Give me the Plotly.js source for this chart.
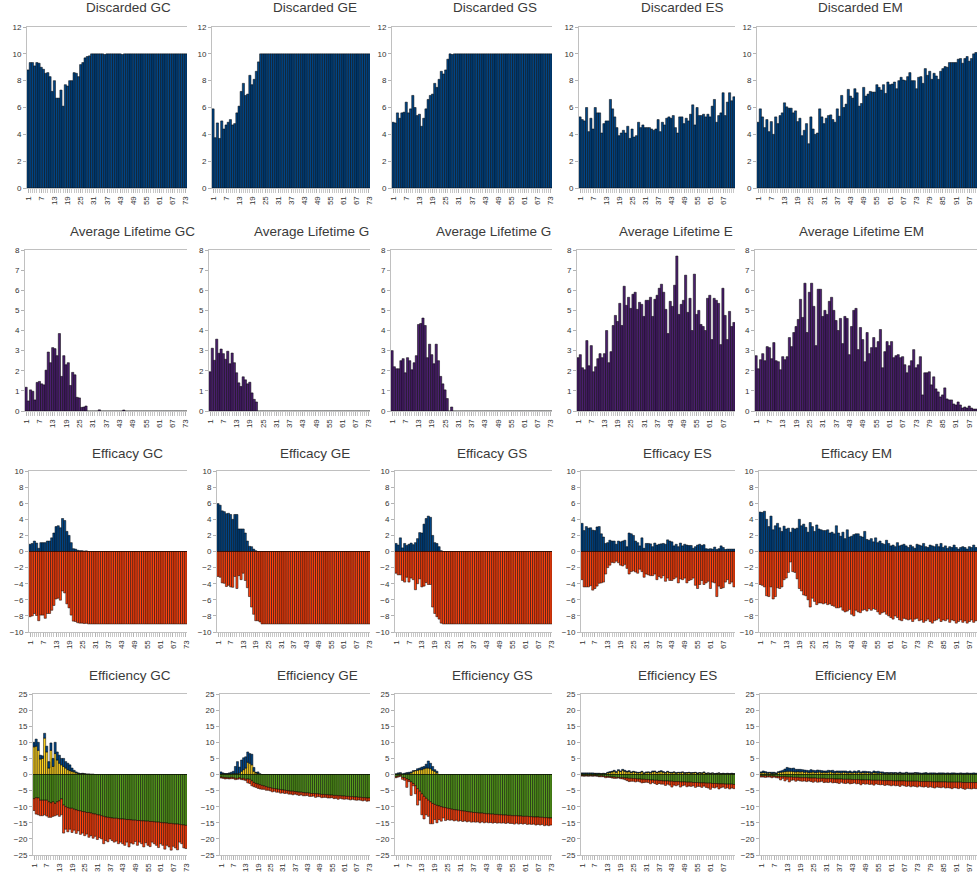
<!DOCTYPE html>
<html><head><meta charset="utf-8">
<script src="https://cdn.plot.ly/plotly-3.0.1.min.js"></script>
<style>html,body{margin:0;padding:0;background:#fff}#chart{width:977px;height:877px}</style>
</head><body><div id="chart"></div>
<script>
// ---------- categories / tick labels ----------
const panelNames = ['GC','GE','GS','ES','EM'];
const tickEvery = 6;

// ---------- Discarded ----------
const discGC = [8.8,9.35,9.35,9.1,9.35,9.3,9.0,8.85,8.55,8.6,
 8.3,7.2,8.0,6.7,6.7,7.3,6.1,7.7,7.6,8.0,
 8.0,8.6,8.55,8.3,9.2,9.35,9.7,9.8,9.85,10,
 10,10,10,10,10,9.95,10,10,10,10,
 10,10,10,9.95,10,10,10,10,10,10,
 10,10,10,10,10,10,10,10,10,10,
 10,10,10,10,10,10,10,10,10,10,
 10,10,10];
const discGE = [5.9,3.75,4.85,3.7,5.0,4.4,4.7,4.9,5.1,4.7,
 4.8,5.6,6.1,7.2,7.8,6.9,7.0,8.4,7.7,8.1,
 8.7,9.4,10,10,10,10,10,10,10,10,
 10,10,10,10,10,10,10,10,10,10,
 10,10,10,10,10,10,10,10,10,10,
 10,10,10,10,10,10,10,10,10,10,
 10,10,10,10,10,10,10,10,10,10,
 10,10,10];
const discGS = [4.9,4.85,5.6,5.2,5.6,5.65,6.4,5.6,5.9,6.9,
 6.0,5.4,5.5,4.6,5.2,5.9,6.6,6.9,7.0,7.8,
 7.5,8.1,8.7,8.5,8.8,9.6,10,9.95,10,10,
 10,10,10,10,10,10,10,10,10,10,
 10,10,10,10,10,10,10,10,10,10,
 10,10,10,10,10,10,10,10,10,10,
 10,10,10,10,10,10,10,10,10,10,
 10,10,10];
const discES = [5.3,5.1,5.0,6.0,4.2,5.2,4.4,6.0,5.6,5.6,
 4.1,4.8,5.0,5.0,6.6,5.9,5.3,4.5,3.9,4.1,
 4.3,4.1,4.6,3.7,4.4,3.8,3.9,4.9,4.5,4.7,
 4.5,4.5,4.5,4.4,4.3,4.4,5.1,4.2,4.9,4.7,
 5.2,5.3,5.2,5.4,4.5,4.1,5.3,5.3,4.8,5.2,
 5.0,5.5,6.2,4.7,6.0,5.4,5.4,5.5,5.3,5.5,
 5.3,6.1,6.6,4.9,5.4,5.6,7.1,5.4,6.4,7.1,
 6.5,6.8];
const discEM = [4.9,5.9,5.3,4.5,5.1,4.2,4.95,4.0,5.3,4.8,
 5.4,5.6,6.35,6.05,5.95,5.95,5.6,5.75,4.95,5.2,
 3.9,4.3,4.8,3.3,5.3,4.4,4.0,4.1,5.9,5.3,
 4.8,5.2,5.4,5.45,5.1,4.9,5.9,5.35,6.9,6.0,
 6.25,7.35,6.85,6.7,7.4,7.1,6.1,6.3,7.5,6.85,
 7.0,7.2,7.15,7.15,7.7,7.5,7.3,7.7,7.05,7.9,
 7.7,7.75,7.9,7.4,8.0,8.25,8.05,8.0,8.3,8.6,
 8.0,8.0,7.4,8.25,8.3,7.8,8.9,8.4,8.7,8.1,
 8.55,8.35,8.1,8.7,8.9,9.05,9.0,9.35,9.35,9.35,
 9.35,9.6,9.65,9.3,9.65,9.8,9.45,9.65,10.0,10.1];

// ---------- Average Lifetime ----------
const lifeGC = [1.18,0.5,1.05,0.98,0.55,1.42,1.47,1.35,1.3,2.03,
 2.93,2.4,3.15,3.1,2.75,3.85,1.72,2.75,2.3,2.4,
 1.27,1.92,1.8,0.68,0.65,0.18,0.2,0.25,0,0,
 0,0,0,0.06,0,0,0,0,0,0,
 0,0,0,0,0.05,0,0,0,0,0,
 0,0,0,0,0,0,0,0,0,0,
 0,0,0,0,0,0,0,0,0,0,
 0,0,0];
const lifeGE = [1.95,3.12,2.52,3.57,2.87,3.08,2.85,2.57,2.97,2.35,
 2.88,2.4,1.9,1.4,1.22,1.7,1.55,1.35,1.43,0.9,
 0.58,0.45,0,0,0,0,0,0,0,0,
 0,0,0,0,0,0,0,0,0,0,
 0,0,0,0,0,0,0,0,0,0,
 0,0,0,0,0,0,0,0,0,0,
 0,0,0,0,0,0,0,0,0,0,
 0,0,0];
const lifeGS = [3.0,2.2,2.1,2.1,2.5,2.6,1.9,2.65,2.5,2.05,
 2.4,2.75,4.3,4.35,4.62,4.25,2.65,3.32,2.8,2.35,
 3.32,2.5,1.72,1.35,1.05,0.62,0,0.2,0,0,
 0,0,0,0,0,0,0,0,0,0,
 0,0,0,0,0,0,0,0,0,0,
 0,0,0,0,0,0,0,0,0,0,
 0,0,0,0,0,0,0,0,0,0,
 0,0,0];
const lifeES = [2.65,2.8,2.15,2.05,3.5,2.25,3.25,1.95,2.2,2.6,
 2.85,2.65,2.85,4.0,2.4,2.95,4.25,4.75,4.45,5.35,
 4.25,6.2,5.25,5.65,5.1,5.8,5.9,5.05,5.4,5.3,
 4.7,5.5,5.5,5.65,4.7,5.55,5.75,6.1,6.3,5.9,
 5.05,3.85,5.45,5.2,6.25,7.7,4.8,5.3,5.5,6.75,
 4.9,5.6,4.0,6.8,4.8,5.0,4.3,4.2,4.0,5.6,
 5.75,3.55,5.6,5.5,5.35,3.3,6.1,4.75,3.55,4.95,
 4.2,4.4];
const lifeEM = [2.75,2.1,2.55,2.85,2.5,3.2,3.15,2.6,3.4,2.5,
 2.45,2.05,2.7,2.55,2.7,3.65,3.2,3.9,4.2,4.55,
 5.55,4.65,6.35,3.9,5.9,6.35,5.2,3.25,6.05,6.05,
 4.7,5.0,4.8,5.45,5.65,5.0,4.5,4.0,4.6,3.35,
 4.7,4.6,2.8,4.2,5.0,5.1,3.05,4.15,3.55,2.45,
 3.9,2.85,3.15,3.65,3.15,3.45,4.05,2.15,2.95,3.45,
 3.25,3.45,2.65,2.75,2.8,2.65,2.7,2.3,1.9,2.25,
 2.5,3.05,2.15,2.3,2.7,0.8,1.9,1.9,1.95,1.3,
 1.7,1.1,0.95,0.7,0.8,1.15,0.6,0.55,0.55,0.35,
 0.3,0.45,0.3,0.15,0.2,0.15,0.25,0.15,0.1,0.1];

// ---------- Efficacy (positive / negative) ----------
const effPosGC = [0.9,1.0,1.3,1.05,0.4,1.1,1.1,1.1,1.3,1.3,
 1.7,2.3,3.1,3.2,2.95,4.1,3.85,2.5,2.0,1.1,
 0.35,0.3,0.15,0.1,0.1,0.05,0.08,0,0,0,
 0,0,0,0,0,0,0,0,0,0,
 0,0,0,0,0,0,0,0,0,0,
 0,0,0,0,0,0,0,0,0,0,
 0,0,0,0,0,0,0,0,0,0,
 0,0,0];
const effNegGC = [-8.1,-8.0,-7.7,-7.95,-8.6,-7.9,-7.9,-8.3,-7.7,-7.7,
 -7.3,-6.7,-5.9,-5.8,-6.05,-4.9,-5.15,-6.5,-7.0,-7.9,
 -8.65,-8.7,-8.85,-8.9,-8.9,-8.95,-8.92,-9,-9,-9,
 -9,-9,-9,-9,-9,-9,-9,-9,-9,-9,
 -9,-9,-9,-9,-9,-9,-9,-9,-9,-9,
 -9,-9,-9,-9,-9,-9,-9,-9,-9,-9,
 -9,-9,-9,-9,-9,-9,-9,-9,-9,-9,
 -9,-9,-9];
const effPosGE = [5.95,5.75,5.05,4.95,4.7,4.75,4.6,4.0,4.6,4.6,
 2.8,2.8,2.8,2.3,1.3,0.65,0.6,0.3,0.1,0,
 0,0,0,0,0,0,0,0,0,0,
 0,0,0,0,0,0,0,0,0,0,
 0,0,0,0,0,0,0,0,0,0,
 0,0,0,0,0,0,0,0,0,0,
 0,0,0,0,0,0,0,0,0,0,
 0,0,0];
const effNegGE = [-3.1,-3.2,-3.9,-3.95,-4.35,-4.2,-4.4,-4.45,-3.1,-4.6,
 -3.0,-3.5,-2.7,-3.6,-4.5,-5.6,-6.9,-7.8,-8.6,-8.6,
 -8.75,-9,-9,-9,-9,-9,-9,-9,-9,-9,
 -9,-9,-9,-9,-9,-9,-9,-9,-9,-9,
 -9,-9,-9,-9,-9,-9,-9,-9,-9,-9,
 -9,-9,-9,-9,-9,-9,-9,-9,-9,-9,
 -9,-9,-9,-9,-9,-9,-9,-9,-9,-9,
 -9,-9,-9];
const effPosGS = [1.0,0.8,1.7,0.45,1.0,0.75,0.9,1.05,0.85,1.1,
 1.6,2.35,2.3,3.4,4.1,4.4,4.25,2.0,1.1,1.0,
 0.6,0.1,0,0,0,0,0,0,0,0,
 0,0,0,0,0,0,0,0,0,0,
 0,0,0,0,0,0,0,0,0,0,
 0,0,0,0,0,0,0,0,0,0,
 0,0,0,0,0,0,0,0,0,0,
 0,0,0];
const effNegGS = [-2.7,-2.9,-2.9,-3.6,-3.8,-3.2,-3.8,-3.3,-3.5,-4.75,
 -4.0,-3.4,-4.4,-4.3,-3.85,-4.1,-4.1,-6.9,-7.7,-8.1,
 -8.4,-8.9,-9,-9,-9,-9,-9,-9,-9,-9,
 -9,-9,-9,-9,-9,-9,-9,-9,-9,-9,
 -9,-9,-9,-9,-9,-9,-9,-9,-9,-9,
 -9,-9,-9,-9,-9,-9,-9,-9,-9,-9,
 -9,-9,-9,-9,-9,-9,-9,-9,-9,-9,
 -9,-9,-9];
const effPosES = [3.5,2.6,3.1,2.9,2.95,2.65,2.6,3.05,3.1,2.2,
 1.8,1.0,1.1,1.4,1.3,1.3,0.9,1.3,1.2,1.3,
 1.4,0.6,2.3,2.2,2.0,1.3,1.1,0.7,1.7,0.4,
 1.0,1.0,0.95,0.6,1.05,0.8,0.9,0.95,1.0,0.9,
 1.45,1.3,1.2,0.7,0.9,0.6,1.05,0.7,0.9,0.8,
 0.75,0.75,0.4,0.6,0.8,0.9,0.75,0.85,0.35,0.3,
 0.35,0.3,0.55,0.25,0.35,0.7,0.5,0.25,0.3,0.3,
 0.3,0.3];
const effNegES = [-3.5,-4.4,-4.4,-4.4,-4.25,-4.8,-4.6,-4.3,-3.95,-3.9,
 -3.8,-2.8,-2.0,-1.7,-1.35,-1.4,-1.2,-1.4,-1.7,-1.8,
 -1.6,-2.1,-2.8,-2.5,-2.4,-2.55,-2.7,-2.2,-2.5,-3.2,
 -2.8,-2.9,-3.0,-3.0,-2.8,-3.5,-3.1,-3.3,-3.0,-3.7,
 -3.3,-3.6,-3.6,-3.4,-3.2,-3.9,-3.4,-3.5,-3.3,-3.9,
 -3.6,-3.5,-3.3,-4.2,-4.6,-4.1,-3.6,-4.1,-3.9,-3.7,
 -4.6,-3.8,-3.9,-5.6,-4.3,-4.6,-4.5,-3.8,-3.5,-4.0,
 -3.8,-4.4];
const effPosEM = [4.9,4.85,5.0,4.0,3.1,4.4,2.7,3.2,3.5,2.95,
 2.5,3.15,2.8,2.9,2.4,2.9,2.8,2.9,4.0,3.2,
 3.4,3.0,2.4,3.6,3.1,2.5,3.3,2.8,2.7,2.6,
 2.6,2.7,2.3,2.4,2.2,3.2,2.3,1.9,2.4,1.6,
 2.7,1.8,1.9,2.1,2.2,2.2,1.9,1.8,2.5,1.5,
 1.4,1.6,1.2,1.7,1.1,1.3,1.0,0.9,1.4,1.0,
 0.7,0.8,0.6,1.1,0.7,0.8,0.9,0.7,0.5,0.8,
 0.6,0.4,0.9,0.8,0.7,1.0,0.6,0.5,0.8,0.7,
 0.6,0.9,0.6,1.0,0.5,0.7,0.4,0.6,0.5,0.8,
 0.5,0.3,0.5,0.6,0.5,0.3,0.6,0.5,0.8,0.5];
const effNegEM = [-4.1,-4.2,-4.4,-5.5,-5.6,-4.4,-5.9,-5.6,-4.5,-4.6,
 -4.4,-3.5,-3.3,-2.6,-1.3,-2.5,-2.6,-3.4,-4.6,-4.9,
 -5.4,-5.5,-6.0,-6.9,-5.8,-6.2,-6.6,-6.4,-6.4,-6.5,
 -6.4,-6.6,-6.5,-6.7,-6.8,-7.0,-7.0,-6.9,-7.3,-7.5,
 -7.4,-7.2,-7.8,-8.0,-7.3,-7.5,-7.6,-7.3,-7.2,-7.4,
 -7.1,-7.3,-7.1,-7.2,-7.5,-7.8,-7.6,-7.5,-7.8,-8.0,
 -8.2,-8.4,-8.0,-8.2,-8.5,-8.6,-8.3,-8.4,-8.5,-8.4,
 -8.7,-8.4,-8.3,-8.6,-8.5,-8.8,-8.6,-8.4,-8.7,-8.9,
 -8.6,-8.5,-8.3,-8.7,-8.5,-8.6,-8.4,-8.8,-8.5,-8.6,
 -8.9,-8.7,-8.5,-8.8,-8.6,-8.9,-8.7,-8.5,-8.8,-8.6];

// ---------- Efficiency (yellow, blue positive; green, red negative) ----------
const effyYelGC = [8.6,8.8,7.5,4.8,5.0,11.3,7.0,2.0,7.5,2.5,
 6.5,4.5,3.5,3.0,2.5,2.0,1.5,1.2,1.0,0.8,
 0.5,0.3,0.2,0.3,0.2,0.1,0.1,0.05,0.05,0,
 0,0,0,0,0,0,0,0,0,0,
 0,0,0,0,0,0,0,0,0,0,
 0,0,0,0,0,0,0,0,0,0,
 0,0,0,0,0,0,0,0,0,0,
 0,0,0];
const effyBluGC = [1.4,2.2,2.5,1.2,0.8,1.5,1.8,2.0,2.3,2.5,
 3.5,2.5,2.5,2.0,2.5,2.0,2.0,1.8,1.0,0.5,
 0.3,0.2,0.1,0.1,0.05,0,0,0,0,0,
 0,0,0,0,0,0,0,0,0,0,
 0,0,0,0,0,0,0,0,0,0,
 0,0,0,0,0,0,0,0,0,0,
 0,0,0,0,0,0,0,0,0,0,
 0,0,0];
const effyGrnGC = [-7.5,-7.2,-7.3,-8.0,-8.0,-8.0,-8.0,-8.5,-8.8,-8.5,
 -9.0,-8.5,-8.2,-7.6,-9.5,-10.0,-10.3,-10.5,-10.5,-10.8,
 -11.0,-11.2,-11.3,-11.5,-11.6,-11.8,-11.8,-12.0,-12.2,-12.3,
 -12.5,-12.6,-12.8,-13.0,-13.2,-13.3,-13.4,-13.5,-13.6,-13.6,
 -13.7,-13.8,-13.8,-13.9,-14.0,-14.0,-14.1,-14.2,-14.2,-14.3,
 -14.3,-14.4,-14.4,-14.5,-14.5,-14.6,-14.6,-14.7,-14.8,-14.8,
 -14.9,-15.0,-15.0,-15.1,-15.2,-15.2,-15.3,-15.4,-15.4,-15.5,
 -15.6,-15.7,-15.8];
const effyRedGC = [-3.7,-5.1,-5.2,-4.8,-4.8,-4.5,-4.9,-4.8,-4.5,-4.5,
 -3.8,-4.0,-4.8,-4.9,-8.7,-7.0,-7.5,-6.5,-7.5,-6.5,
 -7.3,-6.3,-7.3,-6.7,-7.4,-6.7,-7.7,-7.0,-7.6,-6.9,
 -7.7,-7.0,-7.2,-8.5,-7.3,-7.6,-6.6,-7.0,-7.4,-7.1,
 -7.8,-7.2,-7.7,-8.1,-7.0,-8.5,-7.2,-7.4,-6.6,-7.7,
 -6.7,-7.1,-8.1,-6.7,-7.5,-7.8,-6.4,-6.8,-7.2,-7.9,
 -6.6,-7.0,-8.2,-6.9,-7.3,-8.3,-7.0,-7.4,-8.0,-5.5,
 -5.9,-7.1,-7.2];
const effyYelGE = [0.2,0.3,0.2,0.2,0.3,0.2,0.3,0.3,0.3,0.4,
 1.0,1.5,2.0,3.8,3.5,3.0,1.0,0.5,0.3,0.1,
 0,0,0,0,0,0,0,0,0,0,
 0,0,0,0,0,0,0,0,0,0,
 0,0,0,0,0,0,0,0,0,0,
 0,0,0,0,0,0,0,0,0,0,
 0,0,0,0,0,0,0,0,0,0,
 0,0,0];
const effyBluGE = [0.6,0.2,0.1,0.1,0.2,0.5,0.7,2.2,3.7,1.9,
 3.5,3.7,3.5,3.2,3.0,3.3,1.2,0.2,0.5,0.1,
 0,0,0,0,0,0,0,0,0,0,
 0,0,0,0,0,0,0,0,0,0,
 0,0,0,0,0,0,0,0,0,0,
 0,0,0,0,0,0,0,0,0,0,
 0,0,0,0,0,0,0,0,0,0,
 0,0,0];
const effyGrnGE = [-0.8,-0.9,-1.0,-1.0,-1.1,-0.9,-1.0,-1.2,-1.2,-1.0,
 -1.3,-1.2,-1.5,-1.4,-1.5,-2.0,-2.5,-2.8,-3.0,-3.2,
 -3.4,-3.6,-3.8,-4.0,-4.1,-4.3,-4.4,-4.5,-4.6,-4.7,
 -4.8,-4.9,-5.0,-5.1,-5.2,-5.2,-5.3,-5.4,-5.5,-5.5,
 -5.6,-5.7,-5.7,-5.8,-5.9,-5.9,-6.0,-6.0,-6.1,-6.2,
 -6.2,-6.3,-6.3,-6.4,-6.4,-6.5,-6.5,-6.6,-6.6,-6.7,
 -6.7,-6.8,-6.8,-6.9,-6.9,-7.0,-7.0,-7.1,-7.1,-7.2,
 -7.2,-7.3,-7.3];
const effyRedGE = [-0.3,-0.3,-0.4,-0.3,-0.3,-0.4,-0.3,-0.4,-0.3,-0.4,
 -0.3,-0.5,-0.4,-1.2,-1.3,-1.5,-1.3,-1.2,-1.3,-1.3,
 -1.2,-1.0,-1.1,-0.9,-1.0,-1.1,-0.8,-1.0,-0.9,-1.1,
 -0.9,-1.0,-0.8,-1.0,-0.9,-1.1,-0.8,-0.9,-1.0,-0.8,
 -1.0,-0.9,-0.8,-1.0,-0.9,-0.8,-1.1,-0.9,-0.8,-1.0,
 -0.9,-0.8,-1.0,-0.9,-0.8,-1.0,-0.9,-1.1,-0.8,-0.9,
 -1.0,-0.8,-0.9,-1.0,-0.8,-0.9,-1.0,-0.8,-0.9,-1.0,
 -0.8,-1.0,-0.9];
const effyYelGS = [0.1,0.2,0.3,0.1,0.2,0.3,0.3,0.5,1.0,1.2,
 1.3,1.5,1.5,1.8,2.0,2.0,1.8,1.3,1.0,0.5,
 0,0,0,0,0,0,0,0,0,0,
 0,0,0,0,0,0,0,0,0,0,
 0,0,0,0,0,0,0,0,0,0,
 0,0,0,0,0,0,0,0,0,0,
 0,0,0,0,0,0,0,0,0,0,
 0,0,0];
const effyBluGS = [0.1,0.3,0.3,0.1,0.2,0.3,0.4,0.3,0.2,0.0,
 0.5,0.5,0.8,0.7,1.2,2.2,1.7,1.2,0.5,0.5,
 0,0,0,0,0,0,0,0,0,0,
 0,0,0,0,0,0,0,0,0,0,
 0,0,0,0,0,0,0,0,0,0,
 0,0,0,0,0,0,0,0,0,0,
 0,0,0,0,0,0,0,0,0,0,
 0,0,0];
const effyGrnGS = [-0.7,-0.5,-0.3,-0.9,-1.0,-1.4,-1.7,-2.3,-2.8,-3.5,
 -4.4,-5.2,-6.0,-6.8,-7.4,-8.0,-8.5,-9.0,-9.3,-9.6,
 -9.8,-10.0,-10.2,-10.3,-10.5,-10.6,-10.8,-10.9,-11.0,-11.1,
 -11.2,-11.3,-11.4,-11.5,-11.6,-11.7,-11.8,-11.8,-11.9,-12.0,
 -12.0,-12.1,-12.2,-12.2,-12.3,-12.3,-12.4,-12.4,-12.5,-12.5,
 -12.6,-12.6,-12.7,-12.7,-12.8,-12.8,-12.8,-12.9,-12.9,-13.0,
 -13.0,-13.0,-13.1,-13.1,-13.2,-13.2,-13.2,-13.3,-13.3,-13.4,
 -13.4,-13.5,-13.5];
const effyRedGS = [-0.3,-0.3,-0.3,-0.6,-0.8,-2.6,-0.5,-4.2,-0.7,-2.5,
 -5.1,-2.8,-6.5,-7.0,-5.1,-5.0,-6.8,-6.3,-4.7,-5.4,
 -4.2,-4.5,-3.3,-4.0,-3.5,-3.6,-3.3,-3.5,-3.2,-3.4,
 -3.1,-3.3,-3.0,-3.2,-2.9,-3.1,-2.9,-3.0,-2.8,-3.0,
 -2.7,-2.9,-2.6,-2.8,-2.6,-2.8,-2.5,-2.7,-2.5,-2.6,
 -2.4,-2.6,-2.3,-2.5,-2.4,-2.6,-2.3,-2.5,-2.3,-2.4,
 -2.2,-2.5,-2.3,-2.4,-2.2,-2.5,-2.3,-2.4,-2.2,-2.5,
 -2.3,-2.4,-2.2];
const effyYelES = [0.3,0.2,0.3,0.2,0.3,0.2,0.3,0.2,0.3,0.2,
 0.3,0.2,0.5,0.6,0.8,1.0,0.7,1.2,0.9,1.3,
 1.0,0.8,0.9,0.6,0.8,0.7,0.5,0.6,0.8,0.4,
 0.6,0.7,0.5,0.8,0.9,0.6,0.8,0.9,0.7,0.5,
 0.8,0.6,0.5,0.7,0.4,0.6,0.5,0.7,0.4,0.5,
 0.6,0.4,0.5,0.6,0.3,0.5,0.4,0.6,0.3,0.4,
 0.3,0.4,0.2,0.3,0.4,0.2,0.3,0.2,0.3,0.2,
 0.3,0.2];
const effyBluES = [0.2,0.3,0.2,0.3,0.2,0.3,0.1,0.2,0.1,0.1,
 0.1,0.1,0.2,0.3,0.2,0.3,0.2,0.3,0.2,0.3,
 0.3,0.2,0.3,0.2,0.2,0.1,0.2,0.1,0.2,0.1,
 0.2,0.1,0.2,0.3,0.2,0.1,0.2,0.3,0.2,0.1,
 0.2,0.1,0.2,0.1,0.2,0.1,0.2,0.1,0.2,0.1,
 0.1,0.2,0.1,0.1,0.2,0.1,0.1,0.2,0.1,0.1,
 0.1,0.1,0.1,0.1,0.1,0.1,0.1,0.1,0.1,0.1,
 0.1,0.1];
const effyGrnES = [-0.3,-0.4,-0.3,-0.4,-0.3,-0.4,-0.3,-0.4,-0.5,-0.4,
 -0.5,-0.6,-0.6,-0.7,-0.8,-0.8,-0.9,-0.9,-1.0,-1.0,
 -1.1,-1.1,-1.2,-1.2,-1.3,-1.3,-1.4,-1.4,-1.5,-1.5,
 -1.6,-1.6,-1.7,-1.7,-1.8,-1.8,-1.9,-1.9,-2.0,-2.0,
 -2.0,-2.1,-2.1,-2.2,-2.2,-2.2,-2.3,-2.3,-2.3,-2.4,
 -2.4,-2.4,-2.5,-2.5,-2.5,-2.6,-2.6,-2.6,-2.7,-2.7,
 -2.7,-2.8,-2.8,-2.8,-2.9,-2.9,-2.9,-3.0,-3.0,-3.0,
 -3.0,-3.1];
const effyRedES = [-0.2,-0.1,-0.2,-0.1,-0.2,-0.1,-0.2,-0.1,-0.2,-0.3,
 -0.2,-0.4,-0.3,-0.2,-0.3,-0.4,-0.3,-0.2,-0.3,-0.4,
 -0.5,-0.8,-1.0,-0.9,-0.8,-1.0,-0.7,-0.9,-1.1,-1.0,
 -0.8,-0.9,-1.2,-0.8,-1.0,-1.3,-0.9,-1.1,-1.0,-1.4,
 -1.0,-1.2,-1.8,-1.1,-1.3,-1.0,-1.6,-1.2,-1.0,-1.4,
 -1.2,-1.3,-1.0,-1.5,-1.2,-1.1,-1.4,-1.0,-1.3,-1.5,
 -1.9,-1.2,-1.4,-1.1,-1.6,-1.2,-1.0,-1.3,-1.1,-1.5,
 -1.2,-1.3];
const effyYelEM = [0.5,0.6,0.5,0.4,0.5,0.3,0.4,0.3,0.6,0.7,
 0.8,0.9,1.0,1.0,1.0,0.9,0.8,0.9,0.8,0.9,
 0.7,0.8,0.6,0.7,0.8,0.6,0.7,0.8,0.6,0.7,
 0.6,0.7,0.8,0.6,0.5,0.7,0.6,0.5,0.7,0.6,
 0.5,0.6,0.5,0.6,0.5,0.7,0.5,0.6,0.5,0.6,
 0.5,0.4,0.6,0.5,0.4,0.5,0.4,0.3,0.4,0.3,
 0.4,0.3,0.4,0.3,0.4,0.3,0.3,0.4,0.3,0.3,
 0.3,0.4,0.3,0.3,0.2,0.3,0.3,0.2,0.3,0.2,
 0.3,0.2,0.3,0.2,0.3,0.2,0.3,0.2,0.2,0.3,
 0.2,0.2,0.3,0.2,0.2,0.3,0.2,0.2,0.2,0.2];
const effyBluEM = [0.3,0.5,0.4,0.3,0.2,0.4,0.3,0.2,0.3,0.4,
 0.5,0.8,1.2,1.0,0.9,1.1,0.8,0.7,0.8,0.6,
 0.7,0.5,0.6,0.8,0.5,0.6,0.7,0.5,0.6,0.4,
 0.5,0.6,0.4,0.7,0.5,0.4,0.5,0.6,0.4,0.5,
 0.4,0.5,0.3,0.5,0.4,0.5,0.3,0.4,0.5,0.3,
 0.4,0.3,0.5,0.4,0.6,0.3,0.4,0.3,0.2,0.3,
 0.2,0.3,0.2,0.2,0.3,0.2,0.2,0.3,0.2,0.2,
 0.2,0.2,0.3,0.2,0.2,0.2,0.3,0.2,0.2,0.3,
 0.2,0.2,0.2,0.3,0.2,0.2,0.2,0.2,0.3,0.2,
 0.2,0.2,0.2,0.2,0.2,0.2,0.2,0.2,0.3,0.2];
const effyGrnEM = [-0.4,-0.5,-0.4,-0.5,-0.4,-0.5,-0.5,-0.6,-0.6,-0.7,
 -0.7,-0.7,-0.8,-0.8,-0.8,-0.9,-0.9,-0.9,-1.0,-1.0,
 -1.0,-1.0,-1.1,-1.1,-1.1,-1.1,-1.2,-1.2,-1.2,-1.2,
 -1.3,-1.3,-1.3,-1.3,-1.4,-1.4,-1.4,-1.4,-1.5,-1.5,
 -1.5,-1.5,-1.6,-1.6,-1.6,-1.6,-1.7,-1.7,-1.7,-1.7,
 -1.7,-1.8,-1.8,-1.8,-1.8,-1.8,-1.9,-1.9,-1.9,-1.9,
 -1.9,-2.0,-2.0,-2.0,-2.0,-2.0,-2.0,-2.1,-2.1,-2.1,
 -2.1,-2.1,-2.1,-2.2,-2.2,-2.2,-2.2,-2.2,-2.2,-2.3,
 -2.3,-2.3,-2.3,-2.3,-2.3,-2.3,-2.4,-2.4,-2.4,-2.4,
 -2.4,-2.4,-2.4,-2.5,-2.5,-2.5,-2.5,-2.5,-2.5,-2.5];
const effyRedEM = [-0.4,-0.3,-0.5,-0.3,-0.4,-0.5,-0.3,-0.4,-0.5,-1.0,
 -0.5,-1.3,-0.7,-1.5,-1.0,-0.8,-1.2,-0.9,-1.0,-1.1,
 -1.0,-1.2,-0.9,-1.1,-1.3,-1.0,-1.2,-1.1,-0.9,-1.3,
 -1.1,-1.2,-1.0,-1.3,-1.1,-1.2,-1.4,-1.0,-1.2,-1.3,
 -1.1,-1.4,-1.2,-1.0,-1.3,-1.2,-1.5,-1.1,-1.3,-1.2,
 -1.4,-1.2,-1.5,-1.1,-1.3,-1.4,-1.2,-1.5,-1.3,-1.4,
 -1.6,-1.3,-1.5,-1.4,-1.7,-1.3,-1.5,-1.6,-1.4,-1.7,
 -1.5,-1.6,-1.8,-1.4,-1.6,-1.7,-1.5,-1.8,-1.6,-1.7,
 -1.9,-1.6,-1.7,-1.8,-1.6,-1.9,-1.7,-1.8,-2.0,-1.7,
 -1.8,-2.0,-1.7,-1.9,-2.1,-1.8,-1.9,-2.0,-1.8,-1.9];

// ---------- titles ----------
const titlesDisc = ['Discarded GC','Discarded GE','Discarded GS','Discarded ES','Discarded EM'];
const titlesLife = ['Average Lifetime GC','Average Lifetime G','Average Lifetime G','Average Lifetime E','Average Lifetime EM'];
const titlesEffc = ['Efficacy GC','Efficacy GE','Efficacy GS','Efficacy ES','Efficacy EM'];
const titlesEffy = ['Efficiency GC','Efficiency GE','Efficiency GS','Efficiency ES','Efficiency EM'];

// ---------- styling / layout ----------
const COL = {blue:'#004586', red:'#ff420e', yellow:'#ffd320', green:'#579d1c', purple:'#4b1f6f'};
const W = 977, H = 877;
const FONT = 'Liberation Sans, Arial, sans-serif';

const rows = [
  {top:27, bot:188, cols:[[27,187],[212,370],[392,552],[579,735],[757,977]], range:[0,12], dtick:2, zero:false,
   titles:titlesDisc, ty:8, tx:[128,315,495,682,860], anchor:'center',
   series:[[[discGC,COL.blue]],[[discGE,COL.blue]],[[discGS,COL.blue]],[[discES,COL.blue]],[[discEM,COL.blue]]]},
  {top:250, bot:411, cols:[[25,187],[209,370],[391,552],[577,735],[755,977]], range:[0,8], dtick:1, zero:false,
   titles:titlesLife, ty:232, tx:[68,252,434,617,797], anchor:'left',
   series:[[[lifeGC,COL.purple]],[[lifeGE,COL.purple]],[[lifeGS,COL.purple]],[[lifeES,COL.purple]],[[lifeEM,COL.purple]]]},
  {top:471, bot:632, cols:[[29,187],[217,370],[395,552],[581,735],[759,977]], range:[-10,10], dtick:2, zero:true,
   titles:titlesEffc, ty:453, tx:[127,315,492,677,856], anchor:'center',
   series:[[[effPosGC,COL.blue],[effNegGC,COL.red]],[[effPosGE,COL.blue],[effNegGE,COL.red]],
           [[effPosGS,COL.blue],[effNegGS,COL.red]],[[effPosES,COL.blue],[effNegES,COL.red]],
           [[effPosEM,COL.blue],[effNegEM,COL.red]]]},
  {top:694, bot:855, cols:[[33,187],[220,370],[395,552],[581,735],[760,977]], range:[-25,25], dtick:5, zero:true,
   titles:titlesEffy, ty:675, tx:[130,317,493,677,856], anchor:'center',
   series:[[[effyYelGC,COL.yellow],[effyBluGC,COL.blue],[effyGrnGC,COL.green],[effyRedGC,COL.red]],
           [[effyYelGE,COL.yellow],[effyBluGE,COL.blue],[effyGrnGE,COL.green],[effyRedGE,COL.red]],
           [[effyYelGS,COL.yellow],[effyBluGS,COL.blue],[effyGrnGS,COL.green],[effyRedGS,COL.red]],
           [[effyYelES,COL.yellow],[effyBluES,COL.blue],[effyGrnES,COL.green],[effyRedES,COL.red]],
           [[effyYelEM,COL.yellow],[effyBluEM,COL.blue],[effyGrnEM,COL.green],[effyRedEM,COL.red]]]}
];

const traces = [];
const layout = {
  width: W, height: H, margin:{l:0,r:0,t:0,b:0},
  paper_bgcolor:'#fff', plot_bgcolor:'#fff',
  showlegend:false, barmode:'relative', bargap:0,
  font:{family:FONT, color:'#333'},
  annotations:[]
};

let k = 0;
rows.forEach((row, ri) => {
  row.cols.forEach((c, ci) => {
    k++;
    const xa = 'xaxis' + (k === 1 ? '' : k);
    const ya = 'yaxis' + (k === 1 ? '' : k);
    const xr = 'x' + (k === 1 ? '' : k);
    const yr = 'y' + (k === 1 ? '' : k);
    let n = 0;
    row.series[ci].forEach(([vals, color]) => {
      n = vals.length;
      const xs = vals.map((_, i) => i + 1);
      traces.push({type:'bar', x:xs, y:vals, xaxis:xr, yaxis:yr,
        marker:{color:color, line:{color:'#000', width:0.5}}, hoverinfo:'skip'});
    });
    layout[xa] = {
      domain:[c[0]/W, c[1]/W], anchor:yr, range:[0.5, n + 0.5],
      tickmode:'linear', tick0:1, dtick:tickEvery, tickangle:-90,
      ticks:'outside', ticklen:4, tickcolor:'#b3b3b3', tickwidth:1,
      minor:{ticks:'outside', tickmode:'linear', tick0:1, dtick:1, ticklen:4, tickcolor:'#c8c8c8', tickwidth:1, showgrid:false},
      showline:true, mirror:true, linecolor:'#c0c0c0', linewidth:1,
      showgrid:false, zeroline:false, tickfont:{size:8, color:'#333', family:FONT}, fixedrange:true
    };
    layout[ya] = {
      domain:[1 - row.bot/H, 1 - row.top/H], anchor:xr, range:row.range,
      tickmode:'linear', tick0:row.range[0], dtick:row.dtick,
      ticks:'outside', ticklen:3, tickcolor:'#b3b3b3',
      showline:true, linecolor:'#c0c0c0', linewidth:1, showgrid:false,
      zeroline:row.zero, zerolinecolor:'#000', zerolinewidth:1,
      tickfont:{size:8, color:'#333', family:FONT}, fixedrange:true
    };
    layout.annotations.push({
      text: row.titles[ci], xref:'paper', yref:'paper',
      x: row.tx[ci]/W, y: 1 - row.ty/H, xanchor: row.anchor, yanchor:'middle',
      showarrow:false, font:{size:13.5, color:'#3a3a3a', family:FONT, weight:'normal'}
    });
  });
});

Plotly.newPlot('chart', traces, layout, {displayModeBar:false, staticPlot:true});
</script>
</body></html>
